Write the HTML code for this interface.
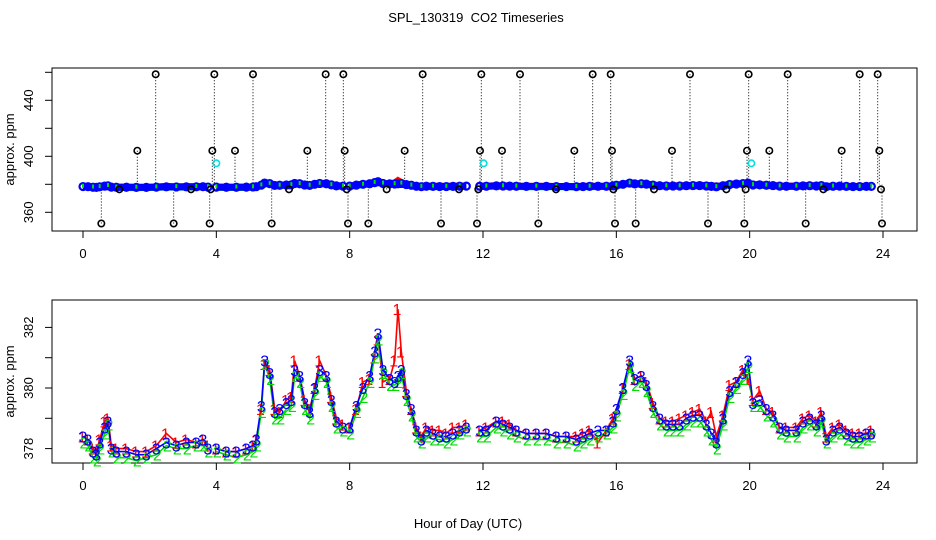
<!DOCTYPE html>
<html><head><meta charset="utf-8"><style>
html,body{margin:0;padding:0;background:#fff;}
svg{display:block;font-family:"Liberation Sans",sans-serif;}
</style></head><body>
<svg id="chart" width="936" height="540" viewBox="0 0 936 540">
<text x="476" y="22" text-anchor="middle" font-size="13">SPL_130319&#160; CO2 Timeseries</text>
<text x="468" y="528" text-anchor="middle" font-size="13">Hour of Day (UTC)</text>
<g id="top"></g>
<g id="bot"></g>
</svg>
<script>
const hours=[0,0.15,0.3,0.4,0.5,0.65,0.75,0.85,1.0,1.3,1.6,1.9,2.2,2.5,2.8,3.1,3.4,3.6,3.75,3.9,
4.0,4.3,4.6,4.9,5.1,5.2,5.35,5.45,5.6,5.75,5.9,6.1,6.25,6.35,6.5,6.65,6.8,6.95,7.1,7.3,7.45,7.6,7.8,7.9,
8.0,8.2,8.4,8.6,8.75,8.85,9.0,9.2,9.35,9.45,9.55,9.7,9.85,10.0,10.15,10.3,10.5,10.7,10.9,11.1,11.3,11.5,11.7,
11.9,12.1,12.4,12.6,12.8,13.0,13.3,13.6,13.9,14.2,14.5,14.8,15.0,15.2,15.45,15.7,15.9,16.0,16.2,16.4,16.55,16.75,16.9,17.1,17.3,17.5,17.7,17.9,18.1,18.3,18.5,18.7,18.85,19.0,19.2,19.4,19.6,19.8,19.95,20.1,20.3,20.5,20.7,20.9,21.1,21.4,21.6,21.8,22.0,22.15,22.3,22.5,22.7,22.9,23.1,23.3,23.5,23.65];
const blue=[378.4,378.3,377.9,377.8,378.2,378.7,378.9,378.0,377.9,377.9,377.8,377.8,378.0,378.2,378.1,378.2,378.2,378.3,378.0,null,
378.0,377.9,377.9,378.0,378.1,378.3,379.4,380.9,380.5,379.2,379.3,379.5,379.6,380.6,380.4,379.5,379.2,380.0,380.6,380.4,379.6,378.9,378.7,null,
378.7,379.4,380.0,380.4,381.2,381.8,380.6,380.3,380.2,380.4,380.6,379.8,379.3,378.6,378.3,378.6,378.5,378.4,378.4,378.5,378.6,378.7,null,
378.6,378.6,378.9,378.8,378.7,378.6,378.5,378.5,378.5,378.4,378.4,378.3,378.4,378.5,378.6,378.6,378.9,379.3,380.0,380.9,380.3,380.4,380.1,379.4,379.0,378.8,378.8,378.8,379.0,379.1,379.1,378.8,378.5,378.2,379.0,379.9,380.2,380.5,380.9,379.5,379.6,379.3,379.1,378.7,378.6,378.6,378.9,379.0,378.8,379.1,378.3,378.6,378.7,378.5,378.4,378.4,378.5,378.5];
const green=[378.2,378.1,377.7,377.6,378.0,378.5,378.8,377.9,377.7,377.7,377.6,377.7,377.8,378.1,378.0,378.0,378.1,378.1,377.9,null,
377.9,377.8,377.7,377.8,377.9,378.1,379.2,380.8,380.3,379.0,379.0,379.3,379.4,380.4,380.2,379.3,379.0,379.8,380.4,380.2,379.4,378.7,378.6,null,
378.5,379.2,379.7,380.2,381.0,381.6,380.5,380.1,380.1,380.2,380.5,379.6,379.1,378.4,378.2,378.4,378.3,378.3,378.2,378.3,378.5,378.6,null,
378.4,378.4,378.7,378.6,378.5,378.4,378.3,378.3,378.3,378.2,378.2,378.1,378.2,378.3,378.4,378.5,378.7,379.1,379.8,380.7,380.1,380.2,379.9,379.2,378.8,378.6,378.6,378.6,378.8,378.9,378.9,378.6,378.3,378.0,378.8,379.7,380.0,380.3,380.7,379.4,379.4,379.1,378.9,378.5,378.4,378.4,378.7,378.8,378.6,378.9,378.2,378.4,378.5,378.3,378.2,378.2,378.3,378.4];
const red=[378.4,378.3,378.0,377.9,378.3,378.9,379.0,378.1,378.0,378.0,377.9,377.9,378.1,378.5,378.2,378.3,378.2,378.3,378.1,null,
378.0,377.9,377.9,378.0,378.1,378.3,379.3,380.8,380.6,379.3,379.2,379.6,379.7,380.9,380.4,379.6,379.3,380.0,380.9,380.4,379.7,379.0,378.8,null,
378.7,379.3,380.2,380.3,381.0,381.6,380.2,380.3,380.9,382.6,381.2,379.9,379.3,378.7,378.4,378.7,378.6,378.6,378.5,378.7,378.7,378.8,null,
378.6,378.7,378.9,378.9,378.8,378.6,378.5,378.5,378.5,378.4,378.4,378.4,378.5,378.6,378.2,378.6,379.0,379.1,380.0,380.8,380.3,380.4,380.2,379.5,379.0,378.9,378.9,379.0,379.1,379.2,379.3,378.9,379.2,378.4,379.1,380.1,380.2,380.6,380.3,379.6,379.9,379.3,379.2,378.7,378.7,378.7,379.0,379.1,378.9,379.2,378.4,378.7,378.8,378.6,378.5,378.5,378.5,378.6];
const spikeHigh=[2.18,3.94,5.1,7.28,7.81,10.19,11.95,13.11,15.29,15.83,18.21,19.97,21.14,23.3,23.84];
const spikeMid=[1.63,3.88,4.56,6.73,7.85,9.65,11.91,12.57,14.74,15.87,17.67,19.92,20.59,22.76,23.89];
const spikeLow=[0.55,2.72,3.8,5.66,7.95,8.56,10.74,11.82,13.66,15.96,16.58,18.75,19.84,21.68,23.97];
const spikeDip=[1.09,3.24,3.83,6.18,7.91,9.11,11.28,11.86,14.19,15.91,17.13,19.3,19.88,22.21,23.94];
const spikeValues=[458.6,404,352,376.4];
const calHours=[4.0,12.02,20.05];
const calValue=395;
const xTicks=[0,4,8,12,16,20,24];
const topTicks=[360,380,400,420,440,460];
const topLabels=[360,400,440];
const botTicks=[378,379,380,381,382];
const botLabels=[378,380,382];

const NS='http://www.w3.org/2000/svg';
function mk(parent,tag,attrs){const e=document.createElementNS(NS,tag);for(const k in attrs)e.setAttribute(k,attrs[k]);parent.appendChild(e);return e;}
const X=h=>83+h*(800/24);
const Ytop=v=>156.3-(v-400)*1.4;
const Ybot=v=>388-(v-380)*30.3;
const L=52,R=917;

function frame(g,top,bot,Y,ticks,labels,prefix){
  let e=mk(g,'rect',{x:L,y:top,width:R-L,height:bot-top,fill:'none',stroke:'#000','stroke-width':1});
  
  xTicks.forEach(t=>{
    e=mk(g,'line',{x1:X(t),x2:X(t),y1:bot,y2:bot+7,stroke:'#000'});
    
    e=mk(g,'text',{x:X(t),y:bot+27,'text-anchor':'middle','font-size':13});e.textContent=t;
    
  });
  ticks.forEach(t=>{
    e=mk(g,'line',{x1:L-7,x2:L,y1:Y(t),y2:Y(t),stroke:'#000'});
    
  });
  labels.forEach(t=>{
    e=mk(g,'text',{x:0,y:0,'text-anchor':'middle','font-size':13,transform:`translate(33,${Y(t)}) rotate(-90)`});e.textContent=t;
    
  });
  e=mk(g,'text',{x:0,y:0,'text-anchor':'middle','font-size':13,transform:`translate(14,${(top+bot)/2}) rotate(-90)`});e.textContent='approx. ppm';
  
}

function segs(vals,Y){const out=[];let cur=[];vals.forEach((v,i)=>{if(v===null){if(cur.length)out.push(cur);cur=[];}else cur.push(X(hours[i]).toFixed(1)+','+Y(v).toFixed(1));});if(cur.length)out.push(cur);return out;}

// top panel
const gt=document.getElementById('top');
frame(gt,68,231,Ytop,topTicks,topLabels,'top');
const allSpikes=[spikeHigh,spikeMid,spikeLow,spikeDip];
allSpikes.forEach((arr,k)=>arr.forEach(h=>{
  const e=mk(gt,'line',{x1:X(h),x2:X(h),y1:Ytop(spikeValues[k]),y2:Ytop(380),stroke:'#000','stroke-width':1,'stroke-dasharray':'1,2'});
  
}));
[['red','#ff0000'],['green','#00dd00'],['blue','#0000ff']].forEach(([nm,c])=>{
  const vals=nm==='red'?red:nm==='green'?green:blue;
  segs(vals,Ytop).forEach(s=>{const e=mk(gt,'polyline',{points:s.join(' '),fill:'none',stroke:c,'stroke-width':7});
    });
});
blue.forEach((v,i)=>{if(v===null)return;
  const e=mk(gt,'circle',{cx:X(hours[i]),cy:Ytop(v),r:3.5,fill:'none',stroke:'#0000ff','stroke-width':2.2});
  });
green.forEach((v,i)=>{if(v===null||i%2)return;
  const e=mk(gt,'rect',{x:X(hours[i])-1,y:Ytop(v)-3,width:2,height:4,fill:'#00dd00'});
  });
allSpikes.forEach((arr,k)=>arr.forEach(h=>{
  const e=mk(gt,'circle',{cx:X(h),cy:Ytop(spikeValues[k]),r:3.2,fill:'none',stroke:'#000','stroke-width':1.6});
  
}));
calHours.forEach(h=>{
  const e=mk(gt,'circle',{cx:X(h),cy:Ytop(calValue),r:3.2,fill:'none',stroke:'#00e0e0','stroke-width':1.6});
  
});

// bottom panel
const gb=document.getElementById('bot');
frame(gb,300,463,Ybot,botTicks,botLabels,'bottom');
const series=[['red','#ff0000','1',red,-1],['green','#00dd00','2',green,1],['blue','#0000ff','3',blue,0]];
series.forEach(([nm,c,ch,vals])=>{
  segs(vals,Ybot).forEach(s=>{const e=mk(gb,'polyline',{points:s.join(' '),fill:'none',stroke:c,'stroke-width':1.6});
    });
});
series.forEach(([nm,c,ch,vals,dx])=>{
  vals.forEach((v,i)=>{if(v===null)return;
    const e=mk(gb,'text',{x:X(hours[i])+dx,y:Ybot(v)+6,'text-anchor':'middle','font-size':16,fill:c});e.textContent=ch;
    });
});
</script>
</body></html>
